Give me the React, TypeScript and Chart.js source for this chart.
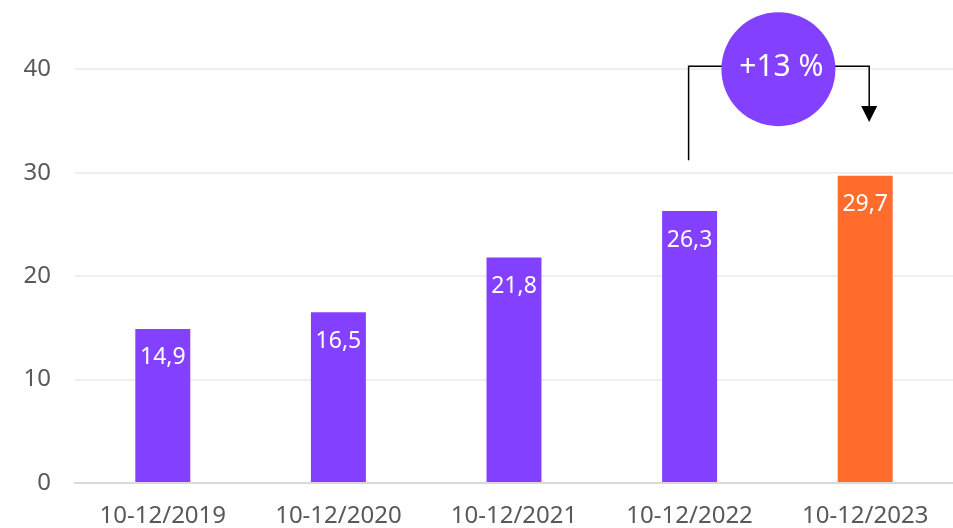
import React, { useEffect, useRef } from "react";
import { Chart, registerables } from "chart.js";

Chart.register(...registerables);

const categories = ["10-12/2019", "10-12/2020", "10-12/2021", "10-12/2022", "10-12/2023"];
const values = [14.9, 16.5, 21.8, 26.3, 29.7];
const barColors = ["#8440FF", "#8440FF", "#8440FF", "#8440FF", "#FF6C2C"];
const yTicks = [0, 10, 20, 30, 40];

// annotation (bracket from 2022 to 2023)
const annotFrom = 3;
const annotTo = 4;
const annotStartValue = 31.2;
const annotTopValue = 40.3;
const annotArrowTipValue = 34.9;
const annotLabel = "+13 %";

const FONT = "'Noto Sans', sans-serif";

const valueLabelPlugin = {
  id: "valueLabels",
  afterDatasetsDraw(chart: any) {
    const ctx = chart.ctx;
    const meta = chart.getDatasetMeta(0);
    ctx.save();
    ctx.font = `23px ${FONT}`;
    ctx.fillStyle = "#ffffff";
    ctx.textAlign = "center";
    ctx.textBaseline = "middle";
    meta.data.forEach((bar: any, i: number) => {
      const txt = values[i].toFixed(1).replace(".", ",");
      ctx.fillText(txt, bar.x, bar.y + 29);
    });
    ctx.restore();
  },
};

const annotationPlugin = {
  id: "bracketAnnotation",
  afterDraw(chart: any) {
    const ctx = chart.ctx;
    const meta = chart.getDatasetMeta(0);
    const y = chart.scales.y;
    const x1 = meta.data[annotFrom].x - 1;
    const x2 = meta.data[annotTo].x + 4;
    const yStart = y.getPixelForValue(annotStartValue);
    const yTop = y.getPixelForValue(annotTopValue);
    const yTip = y.getPixelForValue(annotArrowTipValue);
    ctx.save();
    ctx.strokeStyle = "#000000";
    ctx.lineWidth = 1.5;
    ctx.beginPath();
    ctx.moveTo(x1, yStart);
    ctx.lineTo(x1, yTop);
    ctx.lineTo(x2, yTop);
    ctx.lineTo(x2, yTip - 14);
    ctx.stroke();
    ctx.fillStyle = "#000000";
    ctx.beginPath();
    ctx.moveTo(x2 - 8, yTip - 16);
    ctx.lineTo(x2 + 8, yTip - 16);
    ctx.lineTo(x2, yTip);
    ctx.closePath();
    ctx.fill();
    const cx = (meta.data[annotFrom].x + meta.data[annotTo].x) / 2 + 1;
    ctx.fillStyle = "#8440FF";
    ctx.beginPath();
    ctx.arc(cx, yTop + 3, 57, 0, Math.PI * 2);
    ctx.fill();
    ctx.fillStyle = "#ffffff";
    ctx.font = `30px ${FONT}`;
    ctx.textAlign = "center";
    ctx.textBaseline = "middle";
    ctx.fillText(annotLabel, cx + 3, yTop + 1);
    ctx.restore();
  },
};

export default function App() {
  const ref = useRef<HTMLCanvasElement>(null);
  useEffect(() => {
    document.body.style.margin = "0";
    if (!ref.current) return;
    const chart = new Chart(ref.current, {
      type: "bar",
      data: {
        labels: categories,
        datasets: [
          {
            data: values,
            backgroundColor: barColors,
            barPercentage: 0.313,
            categoryPercentage: 1,
          },
        ],
      },
      options: {
        animation: false,
        responsive: false,
        layout: { padding: 0 },
        plugins: { legend: { display: false }, tooltip: { enabled: false } },
        scales: {
          x: {
            grid: { display: false, drawTicks: false },
            border: { display: true, color: "#d9d9d9", width: 2 },
            ticks: {
              color: "#595959",
              font: { family: FONT, size: 24 },
              padding: 19,
              maxRotation: 0,
            },
            afterFit(scale: any) {
              scale.height = 45;
              scale.paddingLeft = 0;
              scale.paddingRight = 0;
            },
          },
          y: {
            min: 0,
            max: 46.7,
            grid: { color: "#efefef", lineWidth: 2, drawTicks: false },
            border: { display: false },
            ticks: {
              color: "#595959",
              font: { family: FONT, size: 24 },
              padding: 24,
            },
            afterBuildTicks(scale: any) {
              scale.ticks = yTicks.map((v) => ({ value: v }));
            },
            afterFit(scale: any) {
              scale.width = 75;
              scale.paddingTop = 0;
              scale.paddingBottom = 0;
            },
          },
        },
      },
      plugins: [valueLabelPlugin, annotationPlugin],
    });
    return () => chart.destroy();
  }, []);
  return (
    <div style={{ position: "absolute", left: 0, top: 0, width: 953, height: 528 }}>
      <canvas ref={ref} width={953} height={528} style={{ width: 953, height: 528 }} />
    </div>
  );
}
